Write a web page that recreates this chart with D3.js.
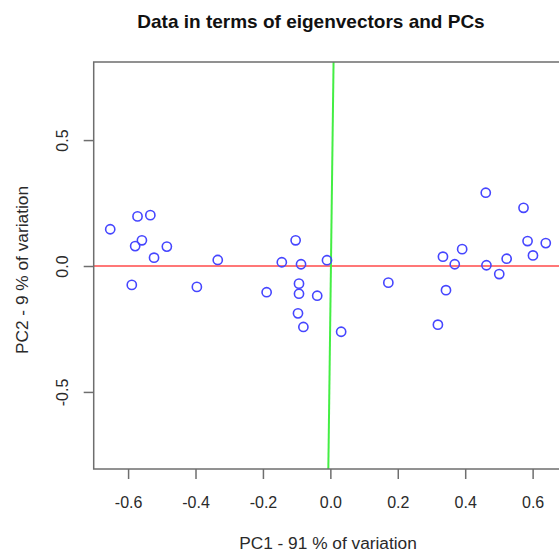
<!DOCTYPE html>
<html>
<head>
<meta charset="utf-8">
<script src="https://cdn.jsdelivr.net/npm/d3@7"></script>
<style>
  body { margin: 0; background: #fff; }
  text { font-family: "Liberation Sans", Arial, sans-serif; }
</style>
</head>
<body>
<div id="app"></div>
<script>
// scores on the first two PCs
var pc1 = [-0.653,-0.572,-0.534,-0.579,-0.559,-0.523,-0.485,-0.589,-0.396,-0.334,
           -0.189,-0.144,-0.103,-0.087,-0.093,-0.093,-0.039,-0.096,-0.080,-0.010,
            0.032, 0.172, 0.319, 0.343, 0.334, 0.369, 0.391, 0.461, 0.463, 0.501,
            0.523, 0.573, 0.585, 0.601, 0.639];
var pc2 = [ 0.146, 0.197, 0.202, 0.079, 0.102, 0.033, 0.077,-0.075,-0.083, 0.024,
           -0.104, 0.015, 0.102, 0.007,-0.070,-0.110,-0.118,-0.188,-0.242, 0.023,
           -0.261,-0.066,-0.233,-0.096, 0.037, 0.007, 0.067, 0.291, 0.003,-0.032,
            0.029, 0.231, 0.099, 0.042, 0.091];
// eigenvector lines (ends)
var greenLineX = [0.0095, -0.006];
var greenLineY = [0.81, -0.806];
var redLineX = [-0.702, 0.699];
var redLineY = [0, 0];

var xTicks = [-0.6,-0.4,-0.2,0,0.2,0.4,0.6];
var yTicks = [-0.5,0,0.5];

var W = 559, H = 553;
var plotL = 93.7, plotR = 566, plotT = 62, plotB = 469;

var svg = d3.select('#app')
  .append('svg')
    .attr('width', W)
    .attr('height', H);

var x = d3.scaleLinear().domain([-0.702, 0.699]).range([plotL, plotR]);
var y = d3.scaleLinear().domain([-0.806, 0.81]).range([plotB, plotT]);

svg.append('defs').append('clipPath').attr('id','clip')
  .append('rect').attr('x',plotL).attr('y',plotT).attr('width',plotR-plotL).attr('height',plotB-plotT);

var plot = svg.append('g').attr('clip-path','url(#clip)');

var line = d3.line().x(function(d){return x(d[0])}).y(function(d){return y(d[1])});

plot.append('path')
    .attr('d', line(d3.zip(redLineX, redLineY)))
    .attr('stroke','#ff4a4a')
    .attr('stroke-width',1.6)
    .attr('fill','none');

plot.append('path')
    .attr('d', line(d3.zip(greenLineX, greenLineY)))
    .attr('stroke','#44ee44')
    .attr('stroke-width',2)
    .attr('fill','none');

plot.selectAll('circle')
    .data(d3.zip(pc1, pc2))
  .enter().append('circle')
    .attr('cx',function(d){return x(d[0])})
    .attr('cy',function(d){return y(d[1])})
    .attr('r',4.6)
    .attr('fill','none')
    .attr('stroke','#4646ff')
    .attr('stroke-width',1.6);

// frame
svg.append('rect')
    .attr('x',plotL).attr('y',plotT)
    .attr('width',plotR-plotL).attr('height',plotB-plotT)
    .attr('fill','none')
    .attr('stroke','#6e6e6e')
    .attr('stroke-width',1.5);

// axes
var xAxis = svg.append('g')
    .attr('transform','translate(0,' + plotB + ')')
    .call(d3.axisBottom(x).tickValues(xTicks).tickSize(10).tickPadding(18)
      .tickFormat(function(d){return d.toFixed(1)}));
xAxis.select('.domain').remove();
xAxis.selectAll('line').attr('stroke','#6e6e6e').attr('stroke-width',1.5);
xAxis.selectAll('text').attr('font-size',16).attr('fill','#2a2a2a');

var yAxis = svg.append('g')
    .attr('transform','translate(' + plotL + ',0)')
    .call(d3.axisLeft(y).tickValues(yTicks).tickSize(10)
      .tickFormat(function(d){return d.toFixed(1)}));
yAxis.select('.domain').remove();
yAxis.selectAll('line').attr('stroke','#6e6e6e').attr('stroke-width',1.5);
yAxis.selectAll('text')
    .attr('font-size',16).attr('fill','#2a2a2a')
    .attr('x',null).attr('dy',null)
    .attr('text-anchor','middle')
    .attr('transform','translate(-31,0) rotate(-90)')
    .attr('dy','0.35em');

// titles
svg.append('text')
    .attr('x',311).attr('y',28)
    .attr('text-anchor','middle')
    .attr('font-size',19).attr('font-weight','bold').attr('fill','#111')
    .text('Data in terms of eigenvectors and PCs');

svg.append('text')
    .attr('x',328).attr('y',549)
    .attr('text-anchor','middle')
    .attr('font-size',17.3).attr('fill','#2a2a2a')
    .text('PC1 - 91 % of variation');

svg.append('text')
    .attr('transform','translate(28,270) rotate(-90)')
    .attr('text-anchor','middle')
    .attr('font-size',17.3).attr('fill','#2a2a2a')
    .text('PC2 - 9 % of variation');
</script>
</body>
</html>
